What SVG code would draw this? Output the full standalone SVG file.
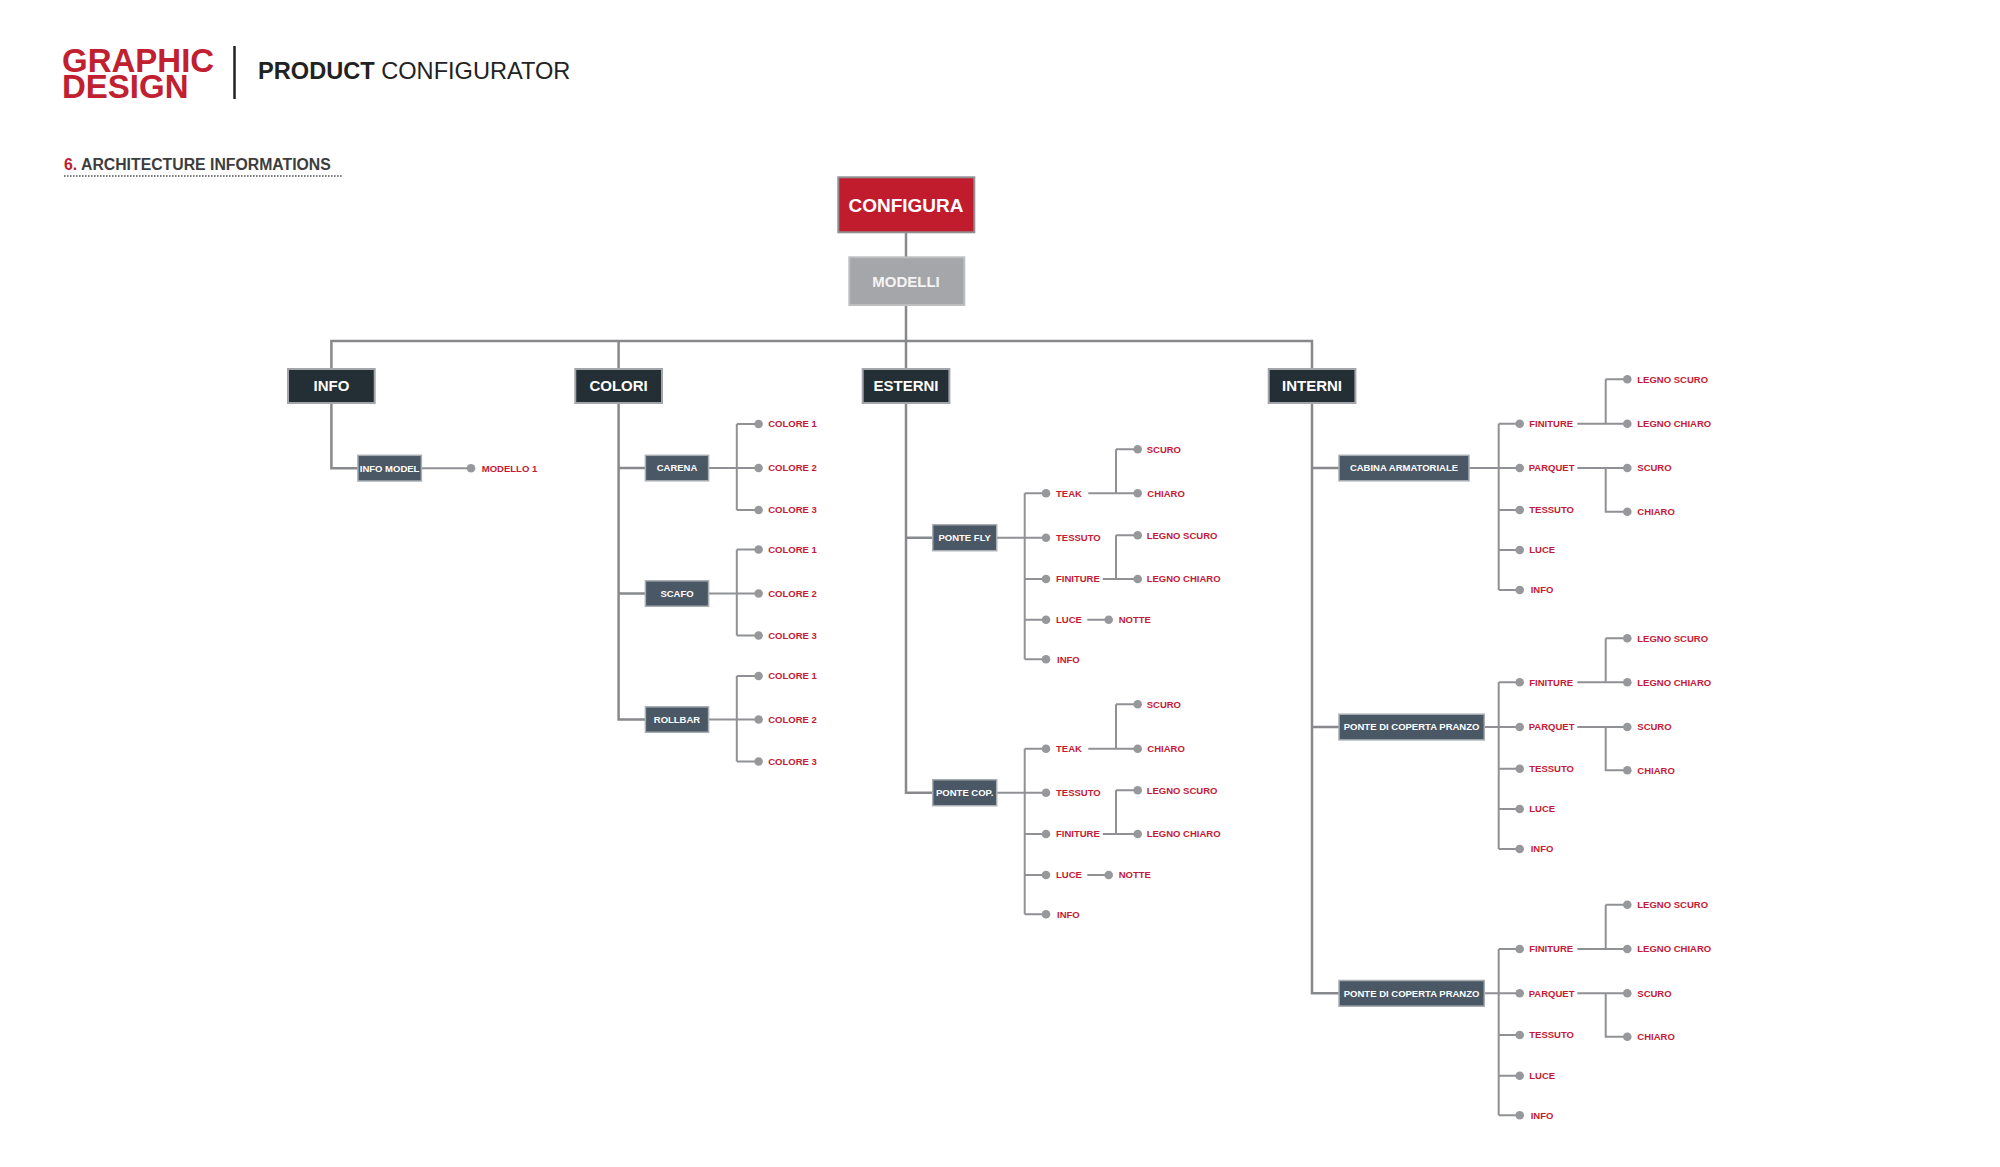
<svg xmlns="http://www.w3.org/2000/svg" width="2000" height="1167" viewBox="0 0 2000 1167">
<style>
text{font-family:"Liberation Sans",Arial,sans-serif;}
.top rect{fill:#242e35;stroke:#a2a6aa;stroke-width:2;}
.top text{fill:#ffffff;font-weight:bold;font-size:15px;text-anchor:middle;}
.sub rect{fill:#4a5764;stroke:#a9aeb3;stroke-width:1.5;}
.sub text{fill:#ffffff;font-weight:bold;font-size:9.5px;text-anchor:middle;}
.leaf circle{fill:#97989c;}
.leaf text{fill:#c41a35;font-weight:bold;font-size:9.5px;}
.main{stroke:#87898c;stroke-width:2.5;fill:none;}
.br{stroke:#8f9195;stroke-width:2;fill:none;}
</style>
<rect x="0" y="0" width="2000" height="1167" fill="#ffffff"/>

<g id="header">
<text font-size="33" font-weight="bold" fill="#c0202f"><tspan x="62" y="72">GRAPHIC</tspan><tspan x="62" y="98">DESIGN</tspan></text>
<line x1="234.5" y1="46" x2="234.5" y2="99" stroke="#222" stroke-width="2.5"/>
<text x="258" y="79" font-size="23.6" fill="#222"><tspan font-weight="bold">PRODUCT</tspan> CONFIGURATOR</text>
<text x="64" y="170" font-size="15.8" font-weight="bold" fill="#3d3d3d"><tspan fill="#c0202f">6.</tspan> ARCHITECTURE INFORMATIONS</text>
<line x1="64" y1="176" x2="342" y2="176" stroke="#555" stroke-width="1.6" stroke-dasharray="1.6 1.4"/>
</g>

<g id="connectors">
<path class="main" d="M906 232.3V257.3M906 305V369M331.4 369V341H1312V369M618.6 341V369"/>
<path class="main" d="M331.4 403V468.2H357.9M618.6 403V719.5H645.4M618.6 468H645.4M618.6 593.5H645.4M906 403V792.7H932.7M906 537.7H932.7M1312 403V993.3H1339M1312 468H1339M1312 727H1339"/>
<path class="br" d="M421.4 468.2H471"/>
<path class="br" d="M708.6 468H758.6M736.8 424V510M736.8 424H758.6M736.8 510H758.6"/>
<path class="br" d="M708.6 593.5H758.6M736.8 549.5V635.5M736.8 549.5H758.6M736.8 635.5H758.6"/>
<path class="br" d="M708.6 719.5H758.6M736.8 676V761.5M736.8 676H758.6M736.8 761.5H758.6"/>
<path class="br" d="M996.7 537.7H1046M1024.7 493.3V659.3M1024.7 493.3H1046M1024.7 579H1046M1024.7 619.7H1046M1024.7 659.3H1046M1088.3 493.3H1137.7M1116 449.3V493.3M1116 449.3H1137.7M1102.7 579H1137.7M1116 535.3V579M1116 535.3H1137.7M1087.3 619.7H1108.7"/>
<path class="br" d="M996.7 792.7H1046M1024.7 748.7V914.3M1024.7 748.7H1046M1024.7 834H1046M1024.7 875H1046M1024.7 914.3H1046M1088.3 748.7H1137.7M1116 704.3V748.7M1116 704.3H1137.7M1102.7 834H1137.7M1116 790.3V834M1116 790.3H1137.7M1087.3 875H1108.7"/>
<path class="br" d="M1469 468H1519.7M1498.7 423.7V590M1498.7 423.7H1519.7M1498.7 510H1519.7M1498.7 550H1519.7M1498.7 590H1519.7M1577.3 423.7H1627.3M1605.7 379.3V423.7M1605.7 379.3H1627.3M1577.3 468H1627.3M1605.7 468V511.7H1627.3"/>
<path class="br" d="M1484.3 727H1519.7M1498.7 682.3V849M1498.7 682.3H1519.7M1498.7 768.7H1519.7M1498.7 809H1519.7M1498.7 849H1519.7M1577.3 682.3H1627.3M1605.7 638.3V682.3M1605.7 638.3H1627.3M1577.3 727H1627.3M1605.7 727V770.3H1627.3"/>
<path class="br" d="M1484.3 993.3H1519.7M1498.7 949V1115.3M1498.7 949H1519.7M1498.7 1035H1519.7M1498.7 1075.7H1519.7M1498.7 1115.3H1519.7M1577.3 949H1627.3M1605.7 904.7V949M1605.7 904.7H1627.3M1577.3 993.3H1627.3M1605.7 993.3V1036.7H1627.3"/>
</g>

<g id="configura"><rect x="838.3" y="177.3" width="136" height="55" fill="#c01c2e" stroke="#8f9093" stroke-width="2"/><text x="906" y="211.5" font-size="19" font-weight="bold" fill="#fff" text-anchor="middle">CONFIGURA</text></g>
<g id="modelli"><rect x="849.3" y="257.3" width="115" height="47.7" fill="#a5a6a9" stroke="#bdbec0" stroke-width="2"/><text x="906" y="286.5" font-size="15" font-weight="bold" fill="#f4f4f4" text-anchor="middle">MODELLI</text></g>

<g id="info" class="top"><rect x="288" y="369" width="86.7" height="34"/><text x="331.4" y="391.4">INFO</text></g>
<g id="colori" class="top"><rect x="575.3" y="369" width="86.7" height="34"/><text x="618.6" y="391.4">COLORI</text></g>
<g id="esterni" class="top"><rect x="862.7" y="369" width="86.7" height="34"/><text x="906" y="391.4">ESTERNI</text></g>
<g id="interni" class="top"><rect x="1268.7" y="369" width="86.7" height="34"/><text x="1312" y="391.4">INTERNI</text></g>

<g id="info-model" class="sub"><rect x="357.9" y="455.3" width="63.5" height="25.7"/><text x="389.6" y="471.6">INFO MODEL</text></g>
<g id="carena" class="sub"><rect x="645.4" y="455.3" width="63.2" height="25.5"/><text x="677" y="471.4">CARENA</text></g>
<g id="scafo" class="sub"><rect x="645.4" y="580.8" width="63.2" height="25.5"/><text x="677" y="596.9">SCAFO</text></g>
<g id="rollbar" class="sub"><rect x="645.4" y="706.8" width="63.2" height="25.5"/><text x="677" y="722.9">ROLLBAR</text></g>
<g id="ponte-fly" class="sub"><rect x="932.7" y="524.7" width="64" height="26"/><text x="964.7" y="541.1">PONTE FLY</text></g>
<g id="ponte-cop" class="sub"><rect x="932.7" y="779.7" width="64" height="26"/><text x="964.7" y="796.1">PONTE COP.</text></g>
<g id="cabina" class="sub"><rect x="1339" y="455.3" width="130" height="25.5"/><text x="1404" y="471.4">CABINA ARMATORIALE</text></g>
<g id="pdcp1" class="sub"><rect x="1339" y="714.2" width="145.3" height="25.7"/><text x="1411.6" y="730.4">PONTE DI COPERTA PRANZO</text></g>
<g id="pdcp2" class="sub"><rect x="1339" y="980.5" width="145.3" height="25.7"/><text x="1411.6" y="996.7">PONTE DI COPERTA PRANZO</text></g>

<g id="modello1" class="leaf"><circle cx="471" cy="468.2" r="4.3"/><text x="481.8" y="471.6">MODELLO 1</text></g>

<g id="carena-c1" class="leaf"><circle cx="758.6" cy="424" r="4.3"/><text x="768.2" y="427.4">COLORE 1</text></g>
<g id="carena-c2" class="leaf"><circle cx="758.6" cy="468" r="4.3"/><text x="768.2" y="471.4">COLORE 2</text></g>
<g id="carena-c3" class="leaf"><circle cx="758.6" cy="510" r="4.3"/><text x="768.2" y="513.4">COLORE 3</text></g>
<g id="scafo-c1" class="leaf"><circle cx="758.6" cy="549.5" r="4.3"/><text x="768.2" y="552.9">COLORE 1</text></g>
<g id="scafo-c2" class="leaf"><circle cx="758.6" cy="593.5" r="4.3"/><text x="768.2" y="596.9">COLORE 2</text></g>
<g id="scafo-c3" class="leaf"><circle cx="758.6" cy="635.5" r="4.3"/><text x="768.2" y="638.9">COLORE 3</text></g>
<g id="rollbar-c1" class="leaf"><circle cx="758.6" cy="676" r="4.3"/><text x="768.2" y="679.4">COLORE 1</text></g>
<g id="rollbar-c2" class="leaf"><circle cx="758.6" cy="719.5" r="4.3"/><text x="768.2" y="722.9">COLORE 2</text></g>
<g id="rollbar-c3" class="leaf"><circle cx="758.6" cy="761.5" r="4.3"/><text x="768.2" y="764.9">COLORE 3</text></g>

<g id="fly-teak" class="leaf"><circle cx="1046" cy="493.3" r="4.3"/><text x="1056" y="496.7">TEAK</text></g>
<g id="fly-tessuto" class="leaf"><circle cx="1046" cy="537.7" r="4.3"/><text x="1056" y="541.1">TESSUTO</text></g>
<g id="fly-finiture" class="leaf"><circle cx="1046" cy="579" r="4.3"/><text x="1056" y="582.4">FINITURE</text></g>
<g id="fly-luce" class="leaf"><circle cx="1046" cy="619.7" r="4.3"/><text x="1056" y="623.1">LUCE</text></g>
<g id="fly-info" class="leaf"><circle cx="1046" cy="659.3" r="4.3"/><text x="1057" y="662.7">INFO</text></g>
<g id="fly-scuro" class="leaf"><circle cx="1137.7" cy="449.3" r="4.3"/><text x="1146.7" y="452.7">SCURO</text></g>
<g id="fly-chiaro" class="leaf"><circle cx="1137.7" cy="493.3" r="4.3"/><text x="1147.3" y="496.7">CHIARO</text></g>
<g id="fly-legno-scuro" class="leaf"><circle cx="1137.7" cy="535.3" r="4.3"/><text x="1146.7" y="538.7">LEGNO SCURO</text></g>
<g id="fly-legno-chiaro" class="leaf"><circle cx="1137.7" cy="579" r="4.3"/><text x="1146.7" y="582.4">LEGNO CHIARO</text></g>
<g id="fly-notte" class="leaf"><circle cx="1108.7" cy="619.7" r="4.3"/><text x="1118.7" y="623.1">NOTTE</text></g>

<g id="cop-teak" class="leaf"><circle cx="1046" cy="748.7" r="4.3"/><text x="1056" y="752.1">TEAK</text></g>
<g id="cop-tessuto" class="leaf"><circle cx="1046" cy="792.7" r="4.3"/><text x="1056" y="796.1">TESSUTO</text></g>
<g id="cop-finiture" class="leaf"><circle cx="1046" cy="834" r="4.3"/><text x="1056" y="837.4">FINITURE</text></g>
<g id="cop-luce" class="leaf"><circle cx="1046" cy="875" r="4.3"/><text x="1056" y="878.4">LUCE</text></g>
<g id="cop-info" class="leaf"><circle cx="1046" cy="914.3" r="4.3"/><text x="1057" y="917.7">INFO</text></g>
<g id="cop-scuro" class="leaf"><circle cx="1137.7" cy="704.3" r="4.3"/><text x="1146.7" y="707.7">SCURO</text></g>
<g id="cop-chiaro" class="leaf"><circle cx="1137.7" cy="748.7" r="4.3"/><text x="1147.3" y="752.1">CHIARO</text></g>
<g id="cop-legno-scuro" class="leaf"><circle cx="1137.7" cy="790.3" r="4.3"/><text x="1146.7" y="793.7">LEGNO SCURO</text></g>
<g id="cop-legno-chiaro" class="leaf"><circle cx="1137.7" cy="834" r="4.3"/><text x="1146.7" y="837.4">LEGNO CHIARO</text></g>
<g id="cop-notte" class="leaf"><circle cx="1108.7" cy="875" r="4.3"/><text x="1118.7" y="878.4">NOTTE</text></g>

<g id="cab-finiture" class="leaf"><circle cx="1519.7" cy="423.7" r="4.3"/><text x="1529.3" y="427.1">FINITURE</text></g>
<g id="cab-parquet" class="leaf"><circle cx="1519.7" cy="468" r="4.3"/><text x="1528.7" y="471.4">PARQUET</text></g>
<g id="cab-tessuto" class="leaf"><circle cx="1519.7" cy="510" r="4.3"/><text x="1529.3" y="513.4">TESSUTO</text></g>
<g id="cab-luce" class="leaf"><circle cx="1519.7" cy="550" r="4.3"/><text x="1529.3" y="553.4">LUCE</text></g>
<g id="cab-info" class="leaf"><circle cx="1519.7" cy="590" r="4.3"/><text x="1530.7" y="593.4">INFO</text></g>
<g id="cab-legno-scuro" class="leaf"><circle cx="1627.3" cy="379.3" r="4.3"/><text x="1637.3" y="382.7">LEGNO SCURO</text></g>
<g id="cab-legno-chiaro" class="leaf"><circle cx="1627.3" cy="423.7" r="4.3"/><text x="1637.3" y="427.1">LEGNO CHIARO</text></g>
<g id="cab-scuro" class="leaf"><circle cx="1627.3" cy="468" r="4.3"/><text x="1637.3" y="471.4">SCURO</text></g>
<g id="cab-chiaro" class="leaf"><circle cx="1627.3" cy="511.7" r="4.3"/><text x="1637.3" y="515.1">CHIARO</text></g>

<g id="p1-finiture" class="leaf"><circle cx="1519.7" cy="682.3" r="4.3"/><text x="1529.3" y="685.7">FINITURE</text></g>
<g id="p1-parquet" class="leaf"><circle cx="1519.7" cy="727" r="4.3"/><text x="1528.7" y="730.4">PARQUET</text></g>
<g id="p1-tessuto" class="leaf"><circle cx="1519.7" cy="768.7" r="4.3"/><text x="1529.3" y="772.1">TESSUTO</text></g>
<g id="p1-luce" class="leaf"><circle cx="1519.7" cy="809" r="4.3"/><text x="1529.3" y="812.4">LUCE</text></g>
<g id="p1-info" class="leaf"><circle cx="1519.7" cy="849" r="4.3"/><text x="1530.7" y="852.4">INFO</text></g>
<g id="p1-legno-scuro" class="leaf"><circle cx="1627.3" cy="638.3" r="4.3"/><text x="1637.3" y="641.7">LEGNO SCURO</text></g>
<g id="p1-legno-chiaro" class="leaf"><circle cx="1627.3" cy="682.3" r="4.3"/><text x="1637.3" y="685.7">LEGNO CHIARO</text></g>
<g id="p1-scuro" class="leaf"><circle cx="1627.3" cy="727" r="4.3"/><text x="1637.3" y="730.4">SCURO</text></g>
<g id="p1-chiaro" class="leaf"><circle cx="1627.3" cy="770.3" r="4.3"/><text x="1637.3" y="773.7">CHIARO</text></g>

<g id="p2-finiture" class="leaf"><circle cx="1519.7" cy="949" r="4.3"/><text x="1529.3" y="952.4">FINITURE</text></g>
<g id="p2-parquet" class="leaf"><circle cx="1519.7" cy="993.3" r="4.3"/><text x="1528.7" y="996.7">PARQUET</text></g>
<g id="p2-tessuto" class="leaf"><circle cx="1519.7" cy="1035" r="4.3"/><text x="1529.3" y="1038.4">TESSUTO</text></g>
<g id="p2-luce" class="leaf"><circle cx="1519.7" cy="1075.7" r="4.3"/><text x="1529.3" y="1079.1">LUCE</text></g>
<g id="p2-info" class="leaf"><circle cx="1519.7" cy="1115.3" r="4.3"/><text x="1530.7" y="1118.7">INFO</text></g>
<g id="p2-legno-scuro" class="leaf"><circle cx="1627.3" cy="904.7" r="4.3"/><text x="1637.3" y="908.1">LEGNO SCURO</text></g>
<g id="p2-legno-chiaro" class="leaf"><circle cx="1627.3" cy="949" r="4.3"/><text x="1637.3" y="952.4">LEGNO CHIARO</text></g>
<g id="p2-scuro" class="leaf"><circle cx="1627.3" cy="993.3" r="4.3"/><text x="1637.3" y="996.7">SCURO</text></g>
<g id="p2-chiaro" class="leaf"><circle cx="1627.3" cy="1036.7" r="4.3"/><text x="1637.3" y="1040.1">CHIARO</text></g>
</svg>
